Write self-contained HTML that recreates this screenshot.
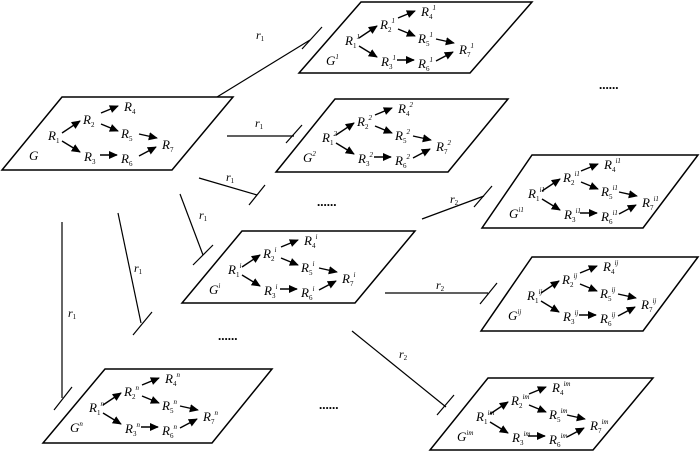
<!DOCTYPE html>
<html><head><meta charset="utf-8"><style>
html,body{margin:0;padding:0;background:#fff;}
svg{display:block;}
text{font-family:"Liberation Serif",serif;font-style:italic;fill:#000;}
.s{font-size:7px;font-style:normal;}
g.n tspan+tspan,g.n text>tspan:only-child{font-style:italic;}
.d{font-family:"Liberation Serif",serif;font-style:normal;font-size:13px;font-weight:bold;}
</style></head><body>
<svg width="700" height="451" viewBox="0 0 700 451" xmlns="http://www.w3.org/2000/svg">
<defs>
<marker id="ah" viewBox="0 0 10 10" refX="9" refY="5" markerWidth="6.5" markerHeight="6.5" orient="auto"><path d="M0,0.5 L10,5 L0,9.5 z" fill="#000"/></marker>
<g id="arr" stroke="#000" stroke-width="1.4" fill="none">
<line x1="62" y1="133" x2="80" y2="121" marker-end="url(#ah)"/>
<line x1="62" y1="141" x2="80" y2="152" marker-end="url(#ah)"/>
<line x1="101" y1="113" x2="118" y2="106" marker-end="url(#ah)"/>
<line x1="101" y1="124" x2="118" y2="131" marker-end="url(#ah)"/>
<line x1="100" y1="155" x2="117" y2="155" marker-end="url(#ah)"/>
<line x1="139" y1="134" x2="157" y2="138" marker-end="url(#ah)"/>
<line x1="139" y1="156" x2="156" y2="147" marker-end="url(#ah)"/>
</g>
</defs>
<g fill="none" stroke="#000" stroke-width="1.5">
<polygon points="62,97 233,97 172,170 2,170"/>
<polygon points="361,2 532,2 470,73 299,73"/>
<polygon points="335,99 508,99 448,172 276,172"/>
<polygon points="532,155 698,155 643,228 482,228"/>
<polygon points="242,231 415,231 355,303 182,303"/>
<polygon points="532,257 698,257 643,331 481,331"/>
<polygon points="105,369 272,369 212,443 43,443"/>
<polygon points="488,378 653,378 593,450 430,450"/>
</g>
<g stroke="#000" stroke-width="1.2" fill="none">
<line x1="217" y1="97" x2="310" y2="40"/><line x1="302" y1="49" x2="322" y2="27"/>
<line x1="227" y1="136" x2="294" y2="136"/><line x1="286" y1="143" x2="302" y2="125"/>
<line x1="199" y1="178" x2="257" y2="195"/><line x1="249" y1="205" x2="265" y2="185"/>
<line x1="180" y1="194" x2="203" y2="255"/><line x1="193" y1="265" x2="213" y2="245"/>
<line x1="118" y1="213" x2="141" y2="323"/><line x1="133" y1="335" x2="152" y2="312"/>
<line x1="62" y1="222" x2="62" y2="398"/><line x1="54" y1="410" x2="72" y2="387"/>
<line x1="422" y1="219" x2="484" y2="196"/><line x1="474" y1="207" x2="492" y2="186"/>
<line x1="385" y1="293" x2="488" y2="293"/><line x1="480" y1="304" x2="497" y2="283"/>
<line x1="352" y1="331" x2="446" y2="407"/><line x1="437" y1="415" x2="454" y2="395"/>
</g>
<g font-size="12">
<text x="256" y="39">r<tspan class="s" dy="2">1</tspan></text>
<text x="255" y="127">r<tspan class="s" dy="2">1</tspan></text>
<text x="226" y="181">r<tspan class="s" dy="2">1</tspan></text>
<text x="199" y="219">r<tspan class="s" dy="2">1</tspan></text>
<text x="134" y="272">r<tspan class="s" dy="2">1</tspan></text>
<text x="68" y="317">r<tspan class="s" dy="2">1</tspan></text>
<text x="450" y="203">r<tspan class="s" dy="2">2</tspan></text>
<text x="436" y="289">r<tspan class="s" dy="2">2</tspan></text>
<text x="399" y="358">r<tspan class="s" dy="2">2</tspan></text>
</g>
<text class="d" x="599" y="89">......</text>
<text class="d" x="317" y="206">......</text>
<text class="d" x="218" y="340">......</text>
<text class="d" x="319" y="409">......</text>

<g font-size="13">
<use href="#arr"/>
<text x="48" y="140">R<tspan class="s" dy="3">1</tspan></text>
<text x="83" y="124">R<tspan class="s" dy="3">2</tspan></text>
<text x="84" y="161">R<tspan class="s" dy="3">3</tspan></text>
<text x="124" y="111">R<tspan class="s" dy="3">4</tspan></text>
<text x="121" y="138">R<tspan class="s" dy="3">5</tspan></text>
<text x="121" y="163">R<tspan class="s" dy="3">6</tspan></text>
<text x="162" y="149">R<tspan class="s" dy="3">7</tspan></text>
<text x="29" y="160">G</text>
</g>
<g class="n" font-size="13" transform="translate(297,-95)">
<use href="#arr"/>
<text x="48" y="140">R<tspan class="s" dy="3">1</tspan><tspan class="s" dy="-9">1</tspan></text>
<text x="83" y="124">R<tspan class="s" dy="3">2</tspan><tspan class="s" dy="-9">1</tspan></text>
<text x="84" y="161">R<tspan class="s" dy="3">3</tspan><tspan class="s" dy="-9">1</tspan></text>
<text x="124" y="111">R<tspan class="s" dy="3">4</tspan><tspan class="s" dy="-9">1</tspan></text>
<text x="121" y="138">R<tspan class="s" dy="3">5</tspan><tspan class="s" dy="-9">1</tspan></text>
<text x="121" y="163">R<tspan class="s" dy="3">6</tspan><tspan class="s" dy="-9">1</tspan></text>
<text x="162" y="149">R<tspan class="s" dy="3">7</tspan><tspan class="s" dy="-9">1</tspan></text>
<text x="29" y="160">G<tspan class="s" dy="-6">1</tspan></text>
</g>
<g class="n" font-size="13" transform="translate(274,2)">
<use href="#arr"/>
<text x="48" y="140">R<tspan class="s" dy="3">1</tspan><tspan class="s" dy="-9">2</tspan></text>
<text x="83" y="124">R<tspan class="s" dy="3">2</tspan><tspan class="s" dy="-9">2</tspan></text>
<text x="84" y="161">R<tspan class="s" dy="3">3</tspan><tspan class="s" dy="-9">2</tspan></text>
<text x="124" y="111">R<tspan class="s" dy="3">4</tspan><tspan class="s" dy="-9">2</tspan></text>
<text x="121" y="138">R<tspan class="s" dy="3">5</tspan><tspan class="s" dy="-9">2</tspan></text>
<text x="121" y="163">R<tspan class="s" dy="3">6</tspan><tspan class="s" dy="-9">2</tspan></text>
<text x="162" y="149">R<tspan class="s" dy="3">7</tspan><tspan class="s" dy="-9">2</tspan></text>
<text x="29" y="160">G<tspan class="s" dy="-6">2</tspan></text>
</g>
<g class="n" font-size="13" transform="translate(480,58)">
<use href="#arr"/>
<text x="48" y="140">R<tspan class="s" dy="3">1</tspan><tspan class="s" dy="-9">i1</tspan></text>
<text x="83" y="124">R<tspan class="s" dy="3">2</tspan><tspan class="s" dy="-9">i1</tspan></text>
<text x="84" y="161">R<tspan class="s" dy="3">3</tspan><tspan class="s" dy="-9">i1</tspan></text>
<text x="124" y="111">R<tspan class="s" dy="3">4</tspan><tspan class="s" dy="-9">i1</tspan></text>
<text x="121" y="138">R<tspan class="s" dy="3">5</tspan><tspan class="s" dy="-9">i1</tspan></text>
<text x="121" y="163">R<tspan class="s" dy="3">6</tspan><tspan class="s" dy="-9">i1</tspan></text>
<text x="162" y="149">R<tspan class="s" dy="3">7</tspan><tspan class="s" dy="-9">i1</tspan></text>
<text x="29" y="160">G<tspan class="s" dy="-6">i1</tspan></text>
</g>
<g class="n" font-size="13" transform="translate(180,134)">
<use href="#arr"/>
<text x="48" y="140">R<tspan class="s" dy="3">1</tspan><tspan class="s" dy="-9">i</tspan></text>
<text x="83" y="124">R<tspan class="s" dy="3">2</tspan><tspan class="s" dy="-9">i</tspan></text>
<text x="84" y="161">R<tspan class="s" dy="3">3</tspan><tspan class="s" dy="-9">i</tspan></text>
<text x="124" y="111">R<tspan class="s" dy="3">4</tspan><tspan class="s" dy="-9">i</tspan></text>
<text x="121" y="138">R<tspan class="s" dy="3">5</tspan><tspan class="s" dy="-9">i</tspan></text>
<text x="121" y="163">R<tspan class="s" dy="3">6</tspan><tspan class="s" dy="-9">i</tspan></text>
<text x="162" y="149">R<tspan class="s" dy="3">7</tspan><tspan class="s" dy="-9">i</tspan></text>
<text x="29" y="160">G<tspan class="s" dy="-6">i</tspan></text>
</g>
<g class="n" font-size="13" transform="translate(479,160)">
<use href="#arr"/>
<text x="48" y="140">R<tspan class="s" dy="3">1</tspan><tspan class="s" dy="-9">ij</tspan></text>
<text x="83" y="124">R<tspan class="s" dy="3">2</tspan><tspan class="s" dy="-9">ij</tspan></text>
<text x="84" y="161">R<tspan class="s" dy="3">3</tspan><tspan class="s" dy="-9">ij</tspan></text>
<text x="124" y="111">R<tspan class="s" dy="3">4</tspan><tspan class="s" dy="-9">ij</tspan></text>
<text x="121" y="138">R<tspan class="s" dy="3">5</tspan><tspan class="s" dy="-9">ij</tspan></text>
<text x="121" y="163">R<tspan class="s" dy="3">6</tspan><tspan class="s" dy="-9">ij</tspan></text>
<text x="162" y="149">R<tspan class="s" dy="3">7</tspan><tspan class="s" dy="-9">ij</tspan></text>
<text x="29" y="160">G<tspan class="s" dy="-6">ij</tspan></text>
</g>
<g class="n" font-size="13" transform="translate(41,272)">
<use href="#arr"/>
<text x="48" y="140">R<tspan class="s" dy="3">1</tspan><tspan class="s" dy="-9">n</tspan></text>
<text x="83" y="124">R<tspan class="s" dy="3">2</tspan><tspan class="s" dy="-9">n</tspan></text>
<text x="84" y="161">R<tspan class="s" dy="3">3</tspan><tspan class="s" dy="-9">n</tspan></text>
<text x="124" y="111">R<tspan class="s" dy="3">4</tspan><tspan class="s" dy="-9">n</tspan></text>
<text x="121" y="138">R<tspan class="s" dy="3">5</tspan><tspan class="s" dy="-9">n</tspan></text>
<text x="121" y="163">R<tspan class="s" dy="3">6</tspan><tspan class="s" dy="-9">n</tspan></text>
<text x="162" y="149">R<tspan class="s" dy="3">7</tspan><tspan class="s" dy="-9">n</tspan></text>
<text x="29" y="160">G<tspan class="s" dy="-6">n</tspan></text>
</g>
<g class="n" font-size="13" transform="translate(428,281)">
<use href="#arr"/>
<text x="48" y="140">R<tspan class="s" dy="3">1</tspan><tspan class="s" dy="-9">im</tspan></text>
<text x="83" y="124">R<tspan class="s" dy="3">2</tspan><tspan class="s" dy="-9">im</tspan></text>
<text x="84" y="161">R<tspan class="s" dy="3">3</tspan><tspan class="s" dy="-9">im</tspan></text>
<text x="124" y="111">R<tspan class="s" dy="3">4</tspan><tspan class="s" dy="-9">im</tspan></text>
<text x="121" y="138">R<tspan class="s" dy="3">5</tspan><tspan class="s" dy="-9">im</tspan></text>
<text x="121" y="163">R<tspan class="s" dy="3">6</tspan><tspan class="s" dy="-9">im</tspan></text>
<text x="162" y="149">R<tspan class="s" dy="3">7</tspan><tspan class="s" dy="-9">im</tspan></text>
<text x="29" y="160">G<tspan class="s" dy="-6">im</tspan></text>
</g>
</svg>
</body></html>
